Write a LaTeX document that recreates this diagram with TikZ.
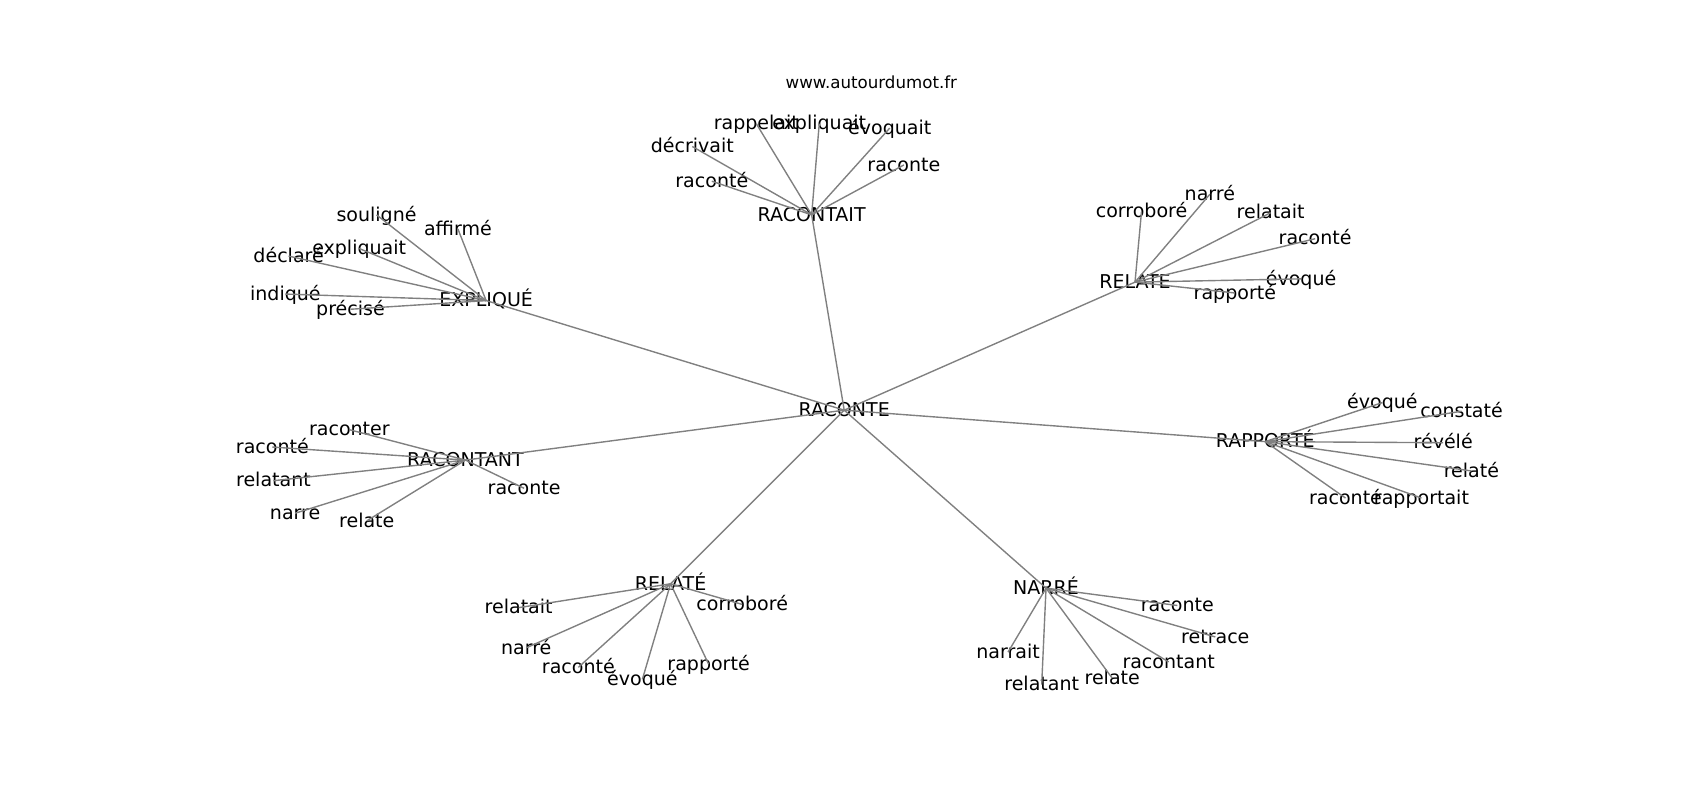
\documentclass[tikz,border=0pt]{standalone}
\usepackage{fontspec}
\setmainfont{DejaVu Sans}
\usepackage{tikz}
\tikzset{%
  word/.style={
    inner sep=0pt,
    text height=1.9ex,
    text depth=.25ex,
    font=\fontsize{13.7}{16}\selectfont
  },
  word link/.style={
    draw=gray,
    line width=1pt
  },
  site label/.style={
    inner sep=0pt,
    font=\fontsize{12}{14}\selectfont
  },
}

\begin{document}
\begin{tikzpicture}[x=0.7813pt, y=-0.7813pt]
\useasboundingbox (0,0) rectangle (1566.7,737.3);
\node[site label] (site) at (803,76) {www.autourdumot.fr};

\node[word] (raconte) at (778,378) {RACONTE};
\node[word] (racontait) at (748,198) {RACONTAIT};
\node[word] (explique) at (448,277) {EXPLIQUÉ};
\node[word] (relate) at (1046,260) {RELATE};
\node[word] (rapporte) at (1166,407) {RAPPORTÉ};
\node[word] (racontant) at (429,424) {RACONTANT};
\node[word] (relatee) at (618,538) {RELATÉ};
\node[word] (narre) at (964,542) {NARRÉ};

\foreach \h in {racontait,explique,relate,rapporte,racontant,relatee,narre}
    \draw[word link] (raconte.center) -- (\h.center);

\foreach \i/\x/\y/\w in {1/697/114/rappelait, 2/755/114/expliquait, 3/820/118/évoquait,
        4/638/135/décrivait, 5/833/152/raconte, 6/656/167/raconté}{
    \node[word] (racontait_\i) at (\x,\y) {\w};
    \draw[word link] (racontait.center) -- (racontait_\i.center);
}
\foreach \i/\x/\y/\w in {1/347/198/souligné, 2/422/211/affirmé, 3/331/229/expliquait,
        4/266/236/déclaré, 5/263/271/indiqué, 6/323/285/précisé}{
    \node[word] (explique_\i) at (\x,\y) {\w};
    \draw[word link] (explique.center) -- (explique_\i.center);
}
\foreach \i/\x/\y/\w in {1/1052/195/corroboré, 2/1115/179/narré, 3/1171/196/relatait,
        4/1212/220/raconté, 5/1199/257/évoqué, 6/1138/270/rapporté}{
    \node[word] (relate_\i) at (\x,\y) {\w};
    \draw[word link] (relate.center) -- (relate_\i.center);
}
\foreach \i/\x/\y/\w in {1/1274/371/évoqué, 2/1347/379/constaté, 3/1330/408/révélé,
        4/1356/434/relaté, 5/1240/459/raconté, 6/1310/459/rapportait}{
    \node[word] (rapporte_\i) at (\x,\y) {\w};
    \draw[word link] (rapporte.center) -- (rapporte_\i.center);
}
\foreach \i/\x/\y/\w in {1/322/396/raconter, 2/251/412/raconté, 3/252/443/relatant,
        4/272/473/narre, 5/338/480/relate, 6/483/450/raconte}{
    \node[word] (racontant_\i) at (\x,\y) {\w};
    \draw[word link] (racontant.center) -- (racontant_\i.center);
}
\foreach \i/\x/\y/\w in {1/478/560/relatait, 2/684/557/corroboré, 3/485/597/narré,
        4/533/615/raconté, 5/592/626/évoqué, 6/653/612/rapporté}{
    \node[word] (relatee_\i) at (\x,\y) {\w};
    \draw[word link] (relatee.center) -- (relatee_\i.center);
}
\foreach \i/\x/\y/\w in {1/1085/558/raconte, 2/1120/587/retrace, 3/929/601/narrait,
        4/1077/610/racontant, 5/960/631/relatant, 6/1025/625/relate}{
    \node[word] (narre_\i) at (\x,\y) {\w};
    \draw[word link] (narre.center) -- (narre_\i.center);
}
\end{tikzpicture}
\end{document}
